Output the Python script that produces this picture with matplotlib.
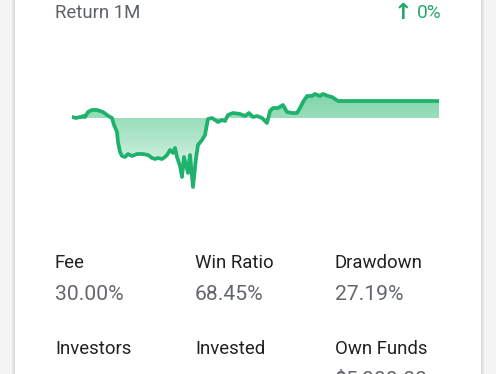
import matplotlib
matplotlib.use("Agg")
import matplotlib.pyplot as plt
import numpy as np
from matplotlib.patches import Rectangle, PathPatch
from matplotlib.colors import LinearSegmentedColormap

# ---- data ----
steps = [0, 4, 8, 10, 11, 13, 16, 20, 25, 28, 31, 35, 38, 40, 42, 45, 46, 48, 50, 53, 56, 60,
         65, 71, 76, 80, 83, 86, 90, 93, 95, 98, 101, 103, 105, 108, 110, 112, 114, 116, 118,
         121, 124, 126, 130, 133, 135, 136, 140, 143, 146, 150, 153, 156, 161, 168, 173, 177,
         181, 185, 190, 195, 198, 201, 206, 211, 215, 220, 225, 228, 231, 235, 240, 243, 248,
         251, 256, 260, 263, 266, 367]
equity = [1, 0, 1, 1, 2, 1, 6, 8, 8, 7, 6, 3, 1, 0, -7, -14, -24, -34, -38, -39, -36, -38,
          -36, -36, -37, -40, -41, -40, -41, -39, -37, -32, -35, -30, -39, -48, -59, -39, -47,
          -55, -37, -69, -40, -27, -22, -17, -6, -1, 0, -2, -4, -2, -3, 3, 5, 4, 2, 5, 1, 2, 0,
          -5, 7, 10, 10, 13, 6, 5, 5, 10, 16, 22, 22, 24, 22, 24, 22, 21, 19, 17, 17]

header_left = "Return 1M"
header_right = "0%"
stat_labels = ["Fee", "Win Ratio", "Drawdown", "Investors", "Invested", "Own Funds"]
stat_values = ["30.00%", "68.45%", "27.19%", "", "", "$5,000.00"]

W, H = 496, 374
fig = plt.figure(figsize=(W / 100, H / 100), dpi=100)
fig.patch.set_facecolor("#f4f4f4")

def fx(x):
    return x / W

def fy(y):
    return 1 - y / H

# card with soft shadow
bg = fig.add_axes([0, 0, 1, 1])
bg.set_xlim(0, W)
bg.set_ylim(H, 0)
bg.axis("off")
for i, a in enumerate([0.02, 0.025, 0.03, 0.04]):
    d = 4 - i
    bg.add_patch(Rectangle((15 - d, -10), 466 + 2 * d, H + 20, facecolor="#000000",
                           alpha=a, edgecolor="none"))
bg.add_patch(Rectangle((15, -10), 466, H + 20, facecolor="white", edgecolor="none"))

font = "Roboto"
fig.text(fx(55), fy(17.5), header_left, fontsize=13.4, color="#5f6368", family=font,
         va="baseline", ha="left")
fig.text(fx(417), fy(17.5), header_right, fontsize=13.8, color="#2aa86a", family=font,
         va="baseline", ha="left")
fig.text(fx(403), fy(19), "\u2191", fontsize=16, color="#23a86b", family="DejaVu Sans",
         va="baseline", ha="center", fontweight="bold")

# ---- chart ----
x0, x1 = 72, 439
ytop, ybot = 90, 192
ax = fig.add_axes([fx(x0), fy(ybot), (x1 - x0) / W, (ybot - ytop) / H])
s = np.array(steps, dtype=float)
e = np.array(equity, dtype=float)
ax.set_xlim(s[0], s[-1])
ax.set_ylim(118 - ybot, 118 - ytop)
ax.axis("off")

poly = ax.fill_between(s, e, 0, color="none", linewidth=0)
cmap = LinearSegmentedColormap.from_list("g", [(0.22, 0.75, 0.48, 0.70),
                                               (0.22, 0.75, 0.48, 0.40),
                                               (0.22, 0.75, 0.48, 0.02)])
grad = np.linspace(0, 1, 256).reshape(-1, 1)
im = ax.imshow(grad, cmap=cmap, aspect="auto",
               extent=[s[0], s[-1], 118 - ybot, 118 - ytop + 5], origin="upper", zorder=1)
path = poly.get_paths()[0]
clip = PathPatch(path, transform=ax.transData, facecolor="none", edgecolor="none")
ax.add_patch(clip)
im.set_clip_path(clip)
ax.plot(s, e, color="#1fb26c", lw=2.7, solid_joinstyle="round", zorder=3)

# ---- stats ----
cols = [55, 195, 335]
for i, (lab, val) in enumerate(zip(stat_labels, stat_values)):
    c = cols[i % 3]
    row = i // 3
    yb = 268 + row * 86
    fig.text(fx(c), fy(yb), lab, fontsize=13.4, color="#202124", family=font,
             va="baseline", ha="left")
    if val:
        fig.text(fx(c), fy(yb + 32), val, fontsize=15.2, color="#63676b", family=font,
                 va="baseline", ha="left")

fig.savefig("out.png", dpi=100, facecolor=fig.get_facecolor())
